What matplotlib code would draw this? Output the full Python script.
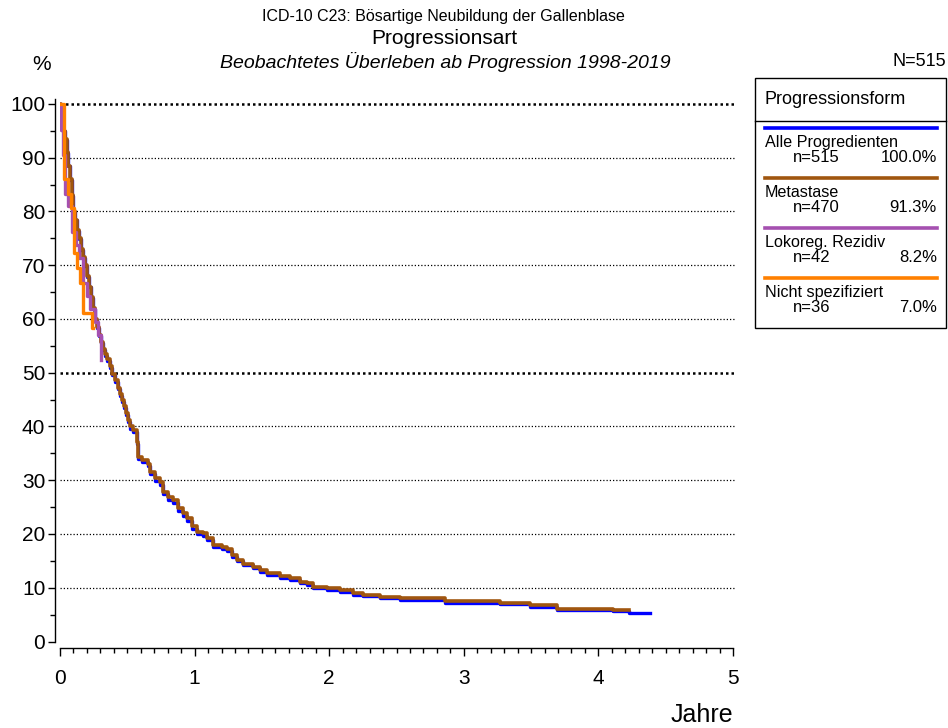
import numpy as np
import matplotlib
matplotlib.use("Agg")
import matplotlib.pyplot as plt
from matplotlib.patches import Rectangle
from matplotlib.lines import Line2D

plt.rcParams['font.family'] = ['Liberation Sans', 'DejaVu Sans']

# Kaplan-Meier curves (years, percent surviving)
t_meta = [0, 0.005, 0.015, 0.025, 0.037, 0.05, 0.062, 0.075, 0.087, 0.099, 0.11, 0.125,
          0.14, 0.155, 0.17, 0.186, 0.20, 0.215, 0.23, 0.245, 0.26, 0.275, 0.29, 0.305,
          0.32, 0.335, 0.35, 0.37, 0.39, 0.409, 0.43, 0.445, 0.46, 0.475, 0.49, 0.505,
          0.52, 0.545, 0.57, 0.582, 0.607, 0.656, 0.669, 0.706, 0.743, 0.768, 0.805, 0.842,
          0.879, 0.916, 0.941, 0.978, 1.015, 1.065, 1.09, 1.139, 1.201, 1.238, 1.275, 1.313,
          1.362, 1.436, 1.486, 1.536, 1.634, 1.709, 1.783, 1.833, 1.882, 1.981, 2.08, 2.179,
          2.253, 2.377, 2.526, 2.86, 3.27, 3.49, 3.69, 4.11, 4.23]
s_meta = [100, 99, 97, 95, 93.4, 91, 88.5, 86, 83, 80, 78.5, 76.5,
          75, 73, 71.5, 70, 68, 66, 64, 62, 60, 58.5, 57, 55.8,
          54.5, 53.5, 52.5, 51.2, 49.8, 48.6, 47.2, 46, 45, 43.8, 42.5, 41.2,
          40, 39.3, 37.2, 34.4, 33.8, 33.1, 31.6, 30.4, 29.7, 27.9, 26.9, 26.3,
          24.8, 23.9, 22.9, 21.4, 20.4, 20.1, 19.2, 18.0, 17.6, 17.3, 16.1, 15.2,
          14.5, 13.9, 13.3, 12.7, 12.1, 11.8, 11.1, 10.8, 10.2, 9.9, 9.6, 9.0,
          8.65, 8.3, 8.0, 7.5, 7.2, 6.8, 6.1, 5.8, 5.8]

t_alle = [0, 0.005, 0.015, 0.025, 0.037, 0.05, 0.062, 0.075, 0.087, 0.099, 0.11, 0.125,
          0.14, 0.155, 0.17, 0.186, 0.20, 0.215, 0.23, 0.245, 0.26, 0.275, 0.29, 0.305,
          0.32, 0.335, 0.35, 0.37, 0.39, 0.409, 0.43, 0.445, 0.46, 0.475, 0.49, 0.505,
          0.52, 0.545, 0.57, 0.582, 0.607, 0.656, 0.669, 0.706, 0.743, 0.768, 0.805, 0.842,
          0.879, 0.916, 0.941, 0.978, 1.015, 1.065, 1.09, 1.139, 1.201, 1.238, 1.275, 1.313,
          1.362, 1.436, 1.486, 1.536, 1.634, 1.709, 1.783, 1.833, 1.882, 1.981, 2.08, 2.179,
          2.253, 2.377, 2.526, 2.86, 3.27, 3.49, 3.69, 4.11, 4.23, 4.38]
s_alle = [100, 99, 97, 95, 93.3, 90.9, 88.4, 85.9, 82.9, 79.9, 78.4, 76.4,
          74.9, 72.9, 71.4, 69.9, 67.9, 65.9, 63.9, 61.9, 59.9, 58.3, 56.8, 55.6,
          54.3, 53.2, 52.2, 50.9, 49.5, 48.3, 46.9, 45.7, 44.6, 43.4, 42.1, 40.8,
          39.6, 38.9, 36.8, 34.0, 33.4, 32.7, 31.1, 29.9, 29.2, 27.4, 26.4, 25.8,
          24.3, 23.4, 22.5, 21.0, 20.0, 19.7, 18.8, 17.6, 17.2, 16.9, 15.8, 14.9,
          14.2, 13.6, 13.0, 12.4, 11.8, 11.5, 10.8, 10.5, 9.9, 9.6, 9.3, 8.7,
          8.4, 8.1, 7.8, 7.2, 6.9, 6.5, 5.9, 5.6, 5.3, 5.3]

t_lokoreg = [0, 0.004, 0.02, 0.037, 0.06, 0.087, 0.12, 0.143, 0.173, 0.20, 0.223, 0.26,
             0.285, 0.305]
s_lokoreg = [100, 95.2, 90.5, 83.3, 81.0, 76.2, 73.8, 71.4, 66.7, 64.3, 61.9, 59.5,
             57.1, 52.4]

t_nicht = [0, 0.032, 0.062, 0.079, 0.107, 0.129, 0.149, 0.173, 0.24, 0.245]
s_nicht = [100, 86.1, 83.3, 80.6, 72.2, 69.4, 66.7, 61.1, 58.3, 58.3]

legend_names = ["Alle Progredienten", "Metastase", "Lokoreg. Rezidiv", "Nicht spezifiziert"]
legend_n = ["n=515", "n=470", "n=42", "n=36"]
legend_pct = ["100.0%", "91.3%", "8.2%", "7.0%"]
colors = ["#0000ff", "#a0560f", "#a550b0", "#ff8000"]

W, H = 948, 728
fig = plt.figure(figsize=(W / 100, H / 100), dpi=100)


def fx(x):
    return x / W


def fy(y):
    return 1 - y / H


ax = fig.add_axes([fx(60), fy(641.5), fx(733) - fx(60), fy(98.6) - fy(641.5)])
ax.set_xlim(0, 5)
ax.set_ylim(0, 101)

# grid lines
for g in range(10, 101, 10):
    heavy = g in (50, 100)
    ax.hlines(g, 0, 5.02, colors='black', linestyles=(0, (1, 1.6)) if not heavy else (0, (1, 1.2)),
              linewidth=0.9 if not heavy else 1.8, clip_on=False, zorder=1)

curves = [(t_alle, s_alle), (t_meta, s_meta), (t_lokoreg, s_lokoreg), (t_nicht, s_nicht)]
widths = [2.4, 2.6, 2.4, 2.4]
for (t, s), c, lw in zip(curves, colors, widths):
    ax.step(t, s, where='post', color=c, linewidth=lw, zorder=3)

for side in ('top', 'right'):
    ax.spines[side].set_visible(False)
ax.spines['left'].set_position(('outward', 3.6))
ax.spines['bottom'].set_position(('outward', 4.7))
ax.spines['left'].set_bounds(0, 101)
ax.spines['bottom'].set_bounds(0, 5)
ax.spines['left'].set_linewidth(1.0)
ax.spines['bottom'].set_linewidth(1.0)

ax.set_xticks(range(0, 6))
ax.set_xticks(np.arange(0, 5.01, 0.1), minor=True)
ax.set_yticks(range(0, 101, 10))
ax.set_yticks(range(5, 100, 10), minor=True)
ax.tick_params(axis='both', which='major', labelsize=15, width=1.0, length=5, color='black')
ax.tick_params(axis='both', which='minor', width=1.0, length=3.5)
ax.tick_params(axis='x', which='major', length=6, pad=9)
ax.tick_params(axis='y', which='major', pad=2)

# titles
fig.text(fx(443), fy(17), "ICD-10 C23: Bösartige Neubildung der Gallenblase", ha='center', va='center', fontsize=11.5)
fig.text(fx(444), fy(39), "Progressionsart", ha='center', va='center', fontsize=15)
fig.text(fx(445), fy(62), "Beobachtetes Überleben ab Progression 1998-2019", ha='center', va='center',
         fontsize=14, style='italic')
fig.text(fx(42), fy(64), "%", ha='center', va='center', fontsize=15)
fig.text(fx(946), fy(62), "N=515", ha='right', va='center', fontsize=13)
fig.text(fx(733), fy(715), "Jahre", ha='right', va='center', fontsize=18)

# legend box
fig.add_artist(Rectangle((fx(755), fy(328)), fx(946) - fx(755), fy(78) - fy(328),
                         transform=fig.transFigure, fill=False, edgecolor='black', linewidth=1.0))
fig.add_artist(Line2D([fx(755), fx(946)], [fy(121), fy(121)], transform=fig.transFigure,
                      color='black', linewidth=1.0))
fig.text(fx(765), fy(99), "Progressionsform", ha='left', va='center', fontsize=13)
for i, (name, n, p, c) in enumerate(zip(legend_names, legend_n, legend_pct, colors)):
    y0 = 128.3 + i * 50
    fig.add_artist(Line2D([fx(765), fx(937)], [fy(y0), fy(y0)], transform=fig.transFigure,
                          color=c, linewidth=2.6))
    fig.text(fx(765), fy(y0 + 14.5), name, ha='left', va='center', fontsize=11.6)
    fig.text(fx(793), fy(y0 + 29), n, ha='left', va='center', fontsize=12)
    fig.text(fx(937), fy(y0 + 29), p, ha='right', va='center', fontsize=12)

fig.savefig("out.png", dpi=100)
